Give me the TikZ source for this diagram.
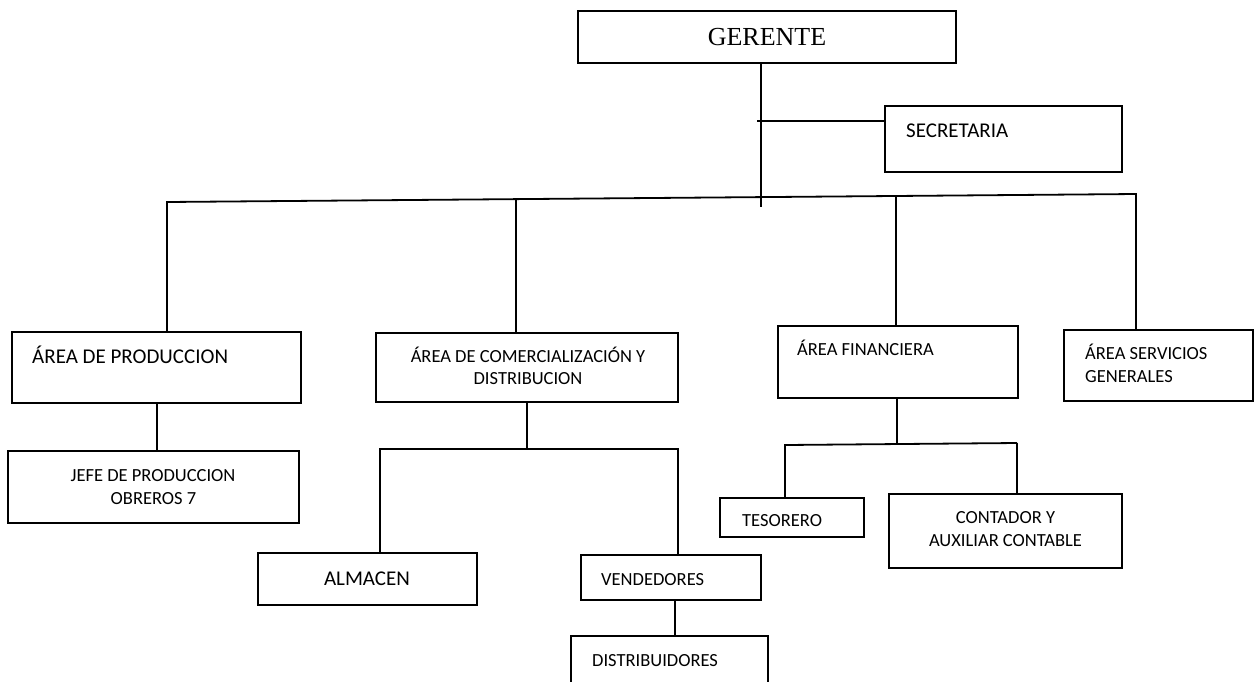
\documentclass[tikz,border=0pt]{standalone}
\usepackage{fontspec}
\setmainfont{Carlito}
\newfontfamily\tnr{Liberation Serif}
\begin{document}
\begin{tikzpicture}[x=1pt,y=-1pt,
  box/.style={draw, line width=1.8pt, inner sep=0pt},
  conn/.style={line width=1.8pt},
  big/.style={inner sep=0pt, font=\fontsize{21}{25}\selectfont},
  small/.style={inner sep=0pt, font=\fontsize{18.5}{22}\selectfont}]
\useasboundingbox (0,0) rectangle (1260,681);
\clip (0,0) rectangle (1260,681);
% boxes
\node[box, minimum width=378pt, minimum height=52pt] (ger) at (767,37) {};
\node[box, minimum width=237pt, minimum height=66pt] (sec) at (1003.5,139) {};
\node[box, minimum width=289pt, minimum height=71pt] (prod) at (156.5,367.5) {};
\node[box, minimum width=291pt, minimum height=72pt] (jefe) at (153.5,487) {};
\node[box, minimum width=302pt, minimum height=69pt] (com) at (527,367.5) {};
\node[box, minimum width=219pt, minimum height=52pt] (alm) at (367.5,579) {};
\node[box, minimum width=180pt, minimum height=45pt] (ven) at (671,577.5) {};
\node[box, minimum width=197pt, minimum height=74pt] (dis) at (669.5,673) {};
\node[box, minimum width=240pt, minimum height=72pt] (fin) at (898,362) {};
\node[box, minimum width=189pt, minimum height=71pt] (serv) at (1158.5,365.5) {};
\node[box, minimum width=144pt, minimum height=39pt] (tes) at (792,517.5) {};
\node[box, minimum width=233pt, minimum height=74pt] (cont) at (1005.5,531) {};
% texts
\node[anchor=base, inner sep=0pt, font=\tnr\fontsize{26}{30}\selectfont] (t-ger) at (767,45) {GERENTE};
\node[big, anchor=base west] (t-sec) at (906,137) {SECRETARIA};
\node[big, anchor=base west] (t-prod) at (32,363) {ÁREA DE PRODUCCION};
\node[small, anchor=base] (t-jefe1) at (153,481) {JEFE DE PRODUCCION};
\node[small, anchor=base] (t-jefe2) at (153.5,504) {OBREROS 7};
\node[small, anchor=base] (t-com1) at (528,362) {ÁREA DE COMERCIALIZACIÓN Y};
\node[small, anchor=base] (t-com2) at (528,384) {DISTRIBUCION};
\node[big, anchor=base] (t-alm) at (367,585) {ALMACEN};
\node[small, anchor=base west] (t-ven) at (601,585) {VENDEDORES};
\node[small, anchor=base west] (t-dis) at (592,666) {DISTRIBUIDORES};
\node[small, anchor=base west] (t-fin) at (797,355) {ÁREA FINANCIERA};
\node[small, anchor=base west] (t-serv1) at (1085,359) {ÁREA SERVICIOS};
\node[small, anchor=base west] (t-serv2) at (1085,382) {GENERALES};
\node[small, anchor=base west] (t-tes) at (742,526) {TESORERO};
\node[small, anchor=base] (t-cont1) at (1005.5,523) {CONTADOR Y};
\node[small, anchor=base] (t-cont2) at (1005.5,546) {AUXILIAR CONTABLE};
% junction coordinates
\coordinate (g0) at (761,207);
\coordinate (s0) at (757,121);
\coordinate (mL) at (167,202);
\coordinate (mR) at (1136,194);
\coordinate (mC) at (516,199);
\coordinate (mF) at (896,196);
\coordinate (cL) at (380,449);
\coordinate (cR) at (678,449);
\coordinate (fL) at (785,445);
\coordinate (fR) at (1017,443);
\coordinate (v0) at (675,0);
\coordinate (f0) at (897,0);
\coordinate (p0) at (157,0);
% connectors
\draw[conn] (ger.south -| g0) -- (g0);
\draw[conn] (s0) -- (s0 -| sec.west);
\draw[conn] (mL |- prod.north) -- (mL) -- (mR) -- (mR |- serv.north);
\draw[conn] (mC) -- (mC |- com.north);
\draw[conn] (mF) -- (mF |- fin.north);
\draw[conn] (prod.south -| p0) -- (jefe.north -| p0);
\draw[conn] (com.south) -- (com.south |- cL);
\draw[conn] (alm.north -| cL) -- (cL) -- (cR) -- (cR |- ven.north);
\draw[conn] (ven.south -| v0) -- (dis.north -| v0);
\draw[conn] (fin.south -| f0) -- (f0 |- fL);
\draw[conn] (tes.north -| fL) -- (fL) -- (fR);
\draw[conn] (fR |- cont.north) -- ++(0,-50);
\end{tikzpicture}
\end{document}
